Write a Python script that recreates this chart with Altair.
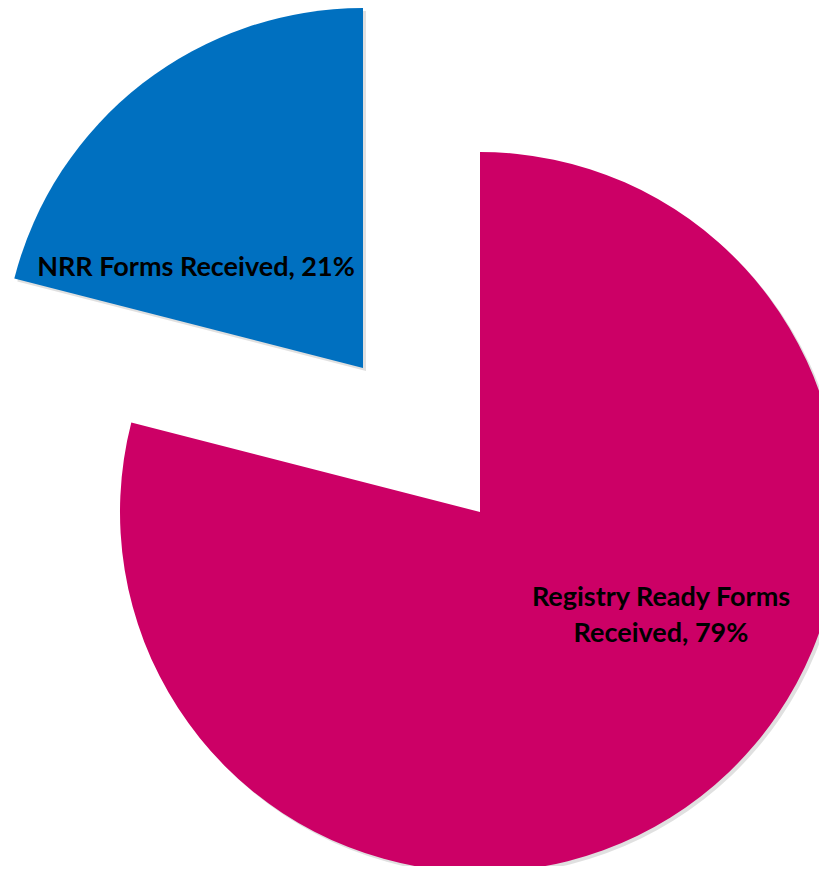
import altair as alt
import pandas as pd

categories = ["Registry Ready Forms Received", "NRR Forms Received"]
values = [79, 21]
label_lines = [["Registry Ready Forms", "Received, 79%"], ["NRR Forms Received, 21%"]]
colors = ["#CC0066", "#0070C0"]

df = pd.DataFrame({"category": categories, "value": values, "order": [0, 1], "label": label_lines})

base = (
    alt.Chart(df)
    .transform_window(end="sum(value)", sort=[alt.SortField("order")], frame=[None, 0])
    .transform_calculate(start="datum.end - datum.value")
)

theta = alt.Theta("start:Q", scale=alt.Scale(domain=[0, 100], range=[0, 6.283185307179586]))
theta2 = alt.Theta2("end:Q")
R = 360


def piece(i, cx, cy, ldx, ldy):
    b = base.transform_filter(alt.datum.order == i)
    shadow = b.mark_arc(outerRadius=R, color="#000000", opacity=0.12).encode(
        theta=theta, theta2=theta2, x=alt.value(cx + 3), y=alt.value(cy + 3)
    )
    arc = b.mark_arc(outerRadius=R).encode(
        theta=theta,
        theta2=theta2,
        color=alt.Color("category:N", scale=alt.Scale(domain=categories, range=colors), legend=None),
        x=alt.value(cx),
        y=alt.value(cy),
    )
    text = b.mark_text(
        font="Lato", fontSize=27, fontWeight="bold", color="#000000",
        dx=ldx, dy=ldy, lineHeight=36, align="center", baseline="middle",
    ).encode(text="label:N", x=alt.value(cx), y=alt.value(cy))
    return shadow, arc, text


s0, a0, t0 = piece(0, 472, 504, 181, 86)
s1, a1, t1 = piece(1, 355, 360, -167, -100)

chart = (
    alt.layer(s0, s1, a0, a1, t0, t1)
    .properties(width=811, height=858, padding=0, autosize=alt.AutoSizeParams(type="none"))
    .configure_view(stroke=None)
)

chart.save("out.html", embed_options={"renderer": "svg", "actions": False})
